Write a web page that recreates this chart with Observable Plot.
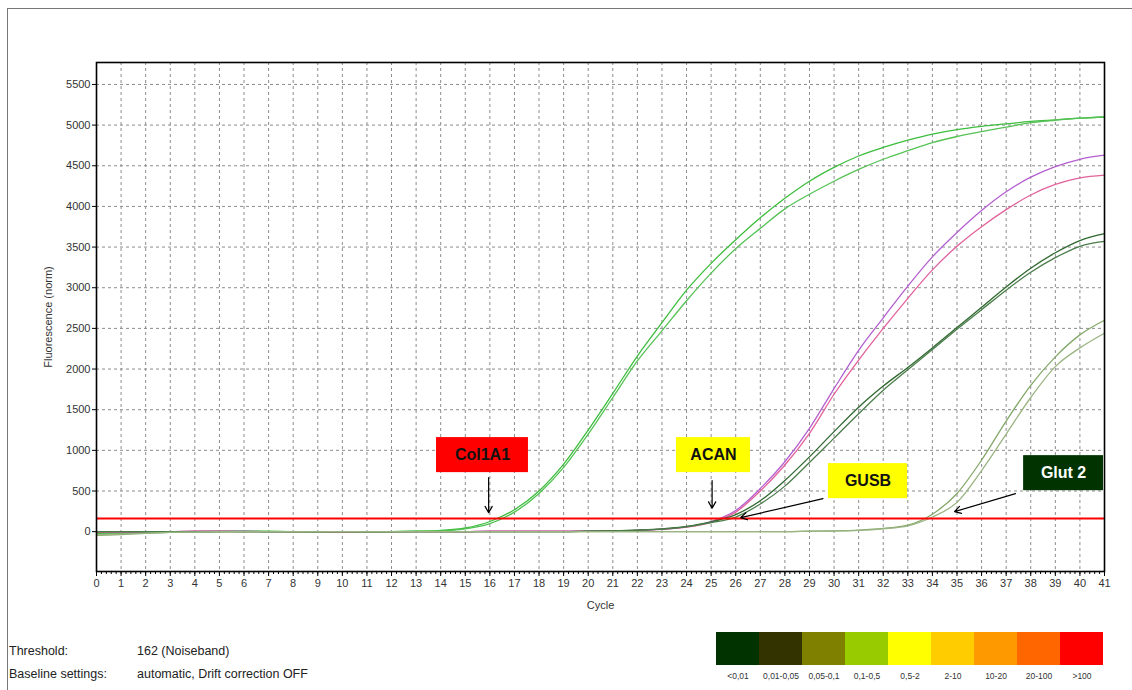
<!DOCTYPE html>
<html><head><meta charset="utf-8">
<script src="https://cdn.jsdelivr.net/npm/d3@7"></script>
<script src="https://cdn.jsdelivr.net/npm/@observablehq/plot@0.6"></script>
<style>
body{margin:0;background:#fff;font-family:"Liberation Sans",Arial,sans-serif;}
#page{position:relative;width:1132px;height:690px;overflow:hidden;background:#fff;}
#border{position:absolute;left:7px;top:8px;width:1200px;height:800px;border-left:1.5px solid #777;border-top:1.5px solid #777;}
#chart{position:absolute;left:0;top:0;}
#info{position:absolute;left:9px;top:640px;font-size:12.5px;color:#222;line-height:23px;}
#info span.k{display:inline-block;width:128px;}
#legend{position:absolute;left:713px;top:632px;}
</style></head>
<body><div id="page"><div id="border"></div><div id="chart"></div><div id="info"></div><div id="legend"></div></div>
<script>
// ---- data ----
const cycles = [0,1,2,3,4,5,6,7,8,9,10,11,12,13,14,15,16,17,18,19,20,21,22,23,24,25,26,27,28,29,30,31,32,33,34,35,36,37,38,39,40,41];
const col1a1_a = [-25,-15,-10,-5,0,5,5,5,0,0,-5,-5,0,5,15,45,125,270,500,830,1250,1700,2160,2570,2970,3300,3590,3860,4100,4310,4480,4620,4725,4815,4890,4945,4985,5015,5045,5065,5085,5100];
const col1a1_b = [-30,-20,-10,-5,0,5,5,0,0,-5,-5,-5,0,5,10,35,100,240,470,790,1200,1650,2100,2470,2840,3180,3480,3730,3970,4150,4310,4455,4580,4685,4785,4860,4920,4975,5030,5060,5085,5100];
const acan_a = [-10,-5,0,0,5,5,5,0,0,0,-5,0,0,0,0,0,5,5,5,5,5,10,15,30,60,125,260,530,860,1270,1760,2230,2630,3020,3380,3680,3950,4180,4360,4490,4580,4630];
const acan_b = [-10,-5,0,0,5,5,0,0,0,0,-5,0,0,0,0,0,5,5,5,5,5,10,15,28,55,115,240,500,820,1210,1690,2110,2500,2870,3220,3510,3750,3960,4140,4270,4350,4385];
const gusb_a = [0,0,0,0,0,0,0,0,0,0,0,0,0,0,0,0,0,0,0,0,5,10,20,35,65,120,210,380,630,920,1230,1530,1790,2020,2260,2510,2760,3010,3240,3430,3580,3665];
const gusb_b = [0,0,0,0,0,0,0,0,0,0,0,0,0,0,0,0,0,0,0,0,5,10,18,32,60,110,180,340,560,850,1150,1450,1740,1990,2240,2490,2730,2970,3190,3370,3510,3570];
const glut2_a = [-45,-35,-20,-10,-5,0,0,0,0,0,0,0,0,0,0,0,0,0,0,0,0,0,0,0,0,0,0,0,0,5,10,20,40,80,215,470,880,1360,1800,2150,2420,2600];
const glut2_b = [-40,-30,-20,-10,-5,0,0,0,0,0,0,0,0,0,0,0,0,0,0,0,0,0,0,0,0,0,0,0,0,5,8,15,35,70,180,360,750,1200,1650,2030,2260,2440];
const seriesNames = ["Col1A1 a","Col1A1 b","ACAN a","ACAN b","GUSB a","GUSB b","Glut 2 a","Glut 2 b"];
const seriesValues = [col1a1_a,col1a1_b,acan_a,acan_b,gusb_a,gusb_b,glut2_a,glut2_b];
const threshold = 162;
const xTickLabels = cycles;
const yTickLabels = [0,500,1000,1500,2000,2500,3000,3500,4000,4500,5000,5500];
const minorXTicks = d3.range(0, 41.001, 0.2);
// annotation boxes (data units) and arrows
const labelBoxes = [
  {label:"Col1A1", x1:13.83, x2:17.57, y1:726, y2:1157},
  {label:"ACAN",   x1:23.59, x2:26.60, y1:726, y2:1157},
  {label:"GUSB",   x1:29.77, x2:32.99, y1:406, y2:837},
  {label:"Glut 2", x1:37.71, x2:40.96, y1:504, y2:935}
];
const arrows = [
  {x1:15.95, y1:664, x2:15.95, y2:234},
  {x1:25.04, y1:627, x2:25.04, y2:290},
  {x1:29.55, y1:406, x2:26.20, y2:172},
  {x1:37.38, y1:468, x2:34.90, y2:246}
];
const legendLabels = ["<0,01","0,01-0,05","0,05-0,1","0,1-0,5","0,5-2","2-10","10-20","20-100",">100"];

// ---- styles ----
const seriesColors = ["#3dbd3d","#55c255","#b45fd0","#e2629c","#2f682f","#4b7d4b","#84a86a","#9ab482"];
const boxFills = ["#ff0000","#ffff00","#ffff00","#003300"];
const boxText = ["#111","#111","#111","#ffffff"];
const legendColors = ["#003300","#333300","#808000","#99cc00","#ffff00","#ffcc00","#ff9900","#ff6600","#ff0000"];
const font = '"Liberation Sans", Arial, sans-serif';

const rows = [];
seriesNames.forEach((s, i) => cycles.forEach((c, j) => rows.push({series: s, cycle: c, value: seriesValues[i][j]})));

const grid = {stroke: "#8c8c8c", strokeOpacity: 1, strokeDasharray: "3,3", strokeWidth: 1};

const chart = Plot.plot({
  width: 1132, height: 620,
  marginLeft: 96, marginRight: 28, marginTop: 62, marginBottom: 49,
  style: {fontFamily: font, fontSize: "11px", color: "#333", background: "transparent"},
  x: {domain: [0, 41]},
  y: {domain: [-490, 5770]},
  color: {domain: seriesNames, range: seriesColors},
  marks: [
    Plot.gridX(xTickLabels, grid),
    Plot.gridY(yTickLabels.filter(v => v > 0), grid),
    Plot.line(rows, {x: "cycle", y: "value", z: "series", stroke: "series", strokeWidth: 1.3, curve: "monotone-x"}),
    Plot.ruleY([threshold], {stroke: "#ff0000", strokeWidth: 2}),
    ...labelBoxes.map((b, i) => Plot.rect([b], {x1: "x1", x2: "x2", y1: "y1", y2: "y2", fill: boxFills[i]})),
    ...labelBoxes.map((b, i) => Plot.text([b], {x: d => (d.x1 + d.x2) / 2, y: d => (d.y1 + d.y2) / 2, text: "label", fill: boxText[i], fontSize: 16, fontWeight: "bold"})),
    Plot.arrow(arrows, {x1: "x1", y1: "y1", x2: "x2", y2: "y2", stroke: "#000", strokeWidth: 1.2, headLength: 9}),
    Plot.axisX(minorXTicks, {tickSize: 3, tickFormat: () => "", label: null, stroke: "#000"}),
    Plot.axisX(xTickLabels, {tickSize: 5, tickPadding: 3, tickFormat: d => String(d), label: "Cycle", labelAnchor: "center", labelArrow: "none", labelOffset: 37, stroke: "#000"}),
    Plot.axisY(yTickLabels, {tickSize: 4, tickPadding: 2, tickFormat: d => String(d), label: "Fluorescence (norm)", labelAnchor: "center", labelArrow: "none", labelOffset: 52, stroke: "#000"}),
    Plot.frame({stroke: "#000", strokeWidth: 1.6})
  ]
});
document.getElementById("chart").appendChild(chart);

const legend = Plot.plot({
  width: 392, height: 56,
  marginTop: 0, marginBottom: 23, marginLeft: 0, marginRight: 0,
  style: {fontFamily: font, fontSize: "8.5px", color: "#333", background: "transparent"},
  x: {domain: legendLabels, padding: 0, label: null, tickSize: 0, tickPadding: 7},
  color: {domain: legendLabels, range: legendColors},
  marks: [Plot.cell(legendLabels, {x: d => d, fill: d => d})]
});
document.getElementById("legend").appendChild(legend);

document.getElementById("info").innerHTML =
  '<div><span class="k">Threshold:</span>162 (Noiseband)</div>' +
  '<div><span class="k">Baseline settings:</span>automatic, Drift correction OFF</div>';
</script>
</body></html>
